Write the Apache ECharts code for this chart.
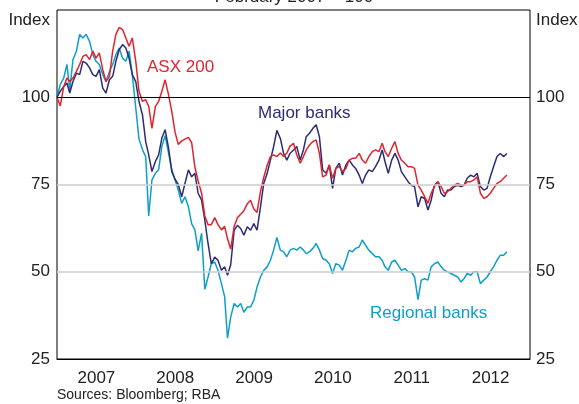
<!DOCTYPE html>
<html>
<head>
<meta charset="utf-8">
<script src="https://cdn.jsdelivr.net/npm/echarts@6/dist/echarts.min.js"></script>
<style>
html, body { margin: 0; padding: 0; background: #fff; }
#chart { width: 579px; height: 404px; }
</style>
</head>
<body>
<div id="chart"></div>
<script>
// half-monthly samples (index, Feb 2007 = 100)
const dates = [
    '2007-01-01','2007-01-16','2007-02-01','2007-02-16','2007-03-01','2007-03-16','2007-04-01','2007-04-16','2007-05-01','2007-05-16','2007-06-01','2007-06-16',
    '2007-07-01','2007-07-16','2007-08-01','2007-08-16','2007-09-01','2007-09-16','2007-10-01','2007-10-16','2007-11-01','2007-11-16','2007-12-01','2007-12-16',
    '2008-01-01','2008-01-16','2008-02-01','2008-02-16','2008-03-01','2008-03-16','2008-04-01','2008-04-16','2008-05-01','2008-05-16','2008-06-01','2008-06-16',
    '2008-07-01','2008-07-16','2008-08-01','2008-08-16','2008-09-01','2008-09-16','2008-10-01','2008-10-16','2008-11-01','2008-11-16','2008-12-01','2008-12-16',
    '2009-01-01','2009-01-16','2009-02-01','2009-02-16','2009-03-01','2009-03-16','2009-04-01','2009-04-16','2009-05-01','2009-05-16','2009-06-01','2009-06-16',
    '2009-07-01','2009-07-16','2009-08-01','2009-08-16','2009-09-01','2009-09-16','2009-10-01','2009-10-16','2009-11-01','2009-11-16','2009-12-01','2009-12-16',
    '2010-01-01','2010-01-16','2010-02-01','2010-02-16','2010-03-01','2010-03-16','2010-04-01','2010-04-16','2010-05-01','2010-05-16','2010-06-01','2010-06-16',
    '2010-07-01','2010-07-16','2010-08-01','2010-08-16','2010-09-01','2010-09-16','2010-10-01','2010-10-16','2010-11-01','2010-11-16','2010-12-01','2010-12-16',
    '2011-01-01','2011-01-16','2011-02-01','2011-02-16','2011-03-01','2011-03-16','2011-04-01','2011-04-16','2011-05-01','2011-05-16','2011-06-01','2011-06-16',
    '2011-07-01','2011-07-16','2011-08-01','2011-08-16','2011-09-01','2011-09-16','2011-10-01','2011-10-16','2011-11-01','2011-11-16','2011-12-01','2011-12-16',
    '2012-01-01','2012-01-16','2012-02-01','2012-02-16','2012-03-01','2012-03-16','2012-04-01','2012-04-16','2012-05-01','2012-05-16','2012-06-01','2012-06-16',
    '2012-07-01','2012-07-16','2012-08-01','2012-08-16','2012-09-01','2012-09-16'
];

const asx200 = [
    100, 97.5, 103, 105.5, 104.5, 105.5, 107.4, 109.4, 111.7, 112.2, 110.8, 113.2, 111.2, 112.7, 107.9, 104.5, 106, 113.2, 118, 120, 119.4, 117, 114.6, 117,
    110.3, 101.7, 98.8, 99.3, 97.4, 91.1, 97.4, 98.8, 101.7, 105, 100.7, 95.9, 90, 86.5, 87.5, 88, 88.5, 87, 80, 76, 72.5, 66, 63.5, 63.5,
    65.5, 63.5, 62, 63, 59.5, 56.5, 63, 65.5, 66.5, 67.5, 69.5, 70.5, 68, 67, 73, 77, 80.5, 83, 83.5, 83, 84, 83, 84, 86,
    86.8, 83.5, 81.1, 83, 84.9, 86.3, 87.3, 87.8, 83.9, 77.2, 77.7, 80.6, 76.8, 79.6, 80.1, 78.7, 79.6, 82, 82.5, 82.5, 83.9, 82, 81.1, 83,
    84.4, 84.9, 84.4, 86.8, 84.4, 83, 85.4, 87.3, 83.9, 82, 81.1, 80.1, 80.1, 79.6, 74.8, 73.4, 71.5, 69.6, 72.5, 74.4, 75.8, 74.4, 72.5, 72.9,
    73.9, 74.8, 75.3, 74.8, 74.8, 75.8, 75.8, 76.3, 77.2, 72.5, 71, 71.5, 72.5, 73.9, 75.3, 75.8, 76.8, 77.7
];

const majorBanks = [
    100, 101.7, 103.1, 104.1, 101.2, 104.5, 106.9, 106.5, 110.3, 109.8, 108.4, 106.5, 106, 107.9, 102.6, 101.2, 105, 106, 110.3, 113.6, 115.1, 114.1, 111.2, 106.5,
    104.5, 98.8, 95, 87.3, 83.5, 78.7, 81.6, 83.5, 88.3, 90.7, 85.4, 78.7, 76.5, 75, 71.5, 75.3, 79.2, 77.2, 78.2, 72.5, 70.5, 64.8, 58.1, 52.3,
    54.2, 53.3, 50.4, 51.4, 49, 52, 61.9, 63.3, 62.4, 60.5, 62.9, 61.9, 63.8, 61.9, 68.6, 75.3, 78.2, 82, 85.9, 90.5, 88.2, 83.9, 82, 83.9,
    84.9, 85.9, 82, 84.9, 88.7, 89.7, 91.1, 92.1, 88.7, 79.2, 78.2, 80.6, 73.9, 79.6, 81.1, 77.7, 80.6, 82, 80.6, 79.6, 77.7, 75.3, 77.7, 79.2,
    78.7, 80.1, 82, 84.9, 81.6, 78.2, 82, 83.9, 82, 78.7, 77.2, 75.8, 74.8, 74.4, 68.6, 71.5, 71, 67.7, 70.5, 74.8, 75.8, 72.5, 71.5, 73.4,
    73.4, 74.4, 74.8, 74.4, 74.8, 76.8, 77.7, 77.2, 78.2, 74.4, 73.4, 73.9, 77.2, 80.1, 83, 83.9, 83, 83.9
];

const regionalBanks = [
    100, 103.6, 105.5, 109.4, 102, 110.8, 113.2, 118, 117, 118, 116, 112.2, 110.3, 109.4, 106.5, 104.5, 107.4, 109.4, 112.2, 114.1, 111.2, 110.3, 113.2, 106.5,
    97, 88, 85, 83, 66, 76.3, 78.2, 79.2, 86, 89, 84, 79.2, 76.3, 73.4, 69.6, 71.5, 68.6, 63.8, 62, 56, 61, 45, 48.5, 52.3,
    52.8, 50.4, 46.6, 42.8, 31, 37, 40.9, 39.9, 40.9, 38.4, 39.9, 39.9, 41.8, 45.6, 48.5, 50.4, 51.4, 53.3, 56.2, 59.8, 56.2, 55.7, 54.3, 56.2,
    56.7, 56.2, 57.1, 56.2, 55.2, 55.7, 56.7, 58.1, 56.2, 53.8, 53.3, 52.3, 49.5, 52.3, 51.9, 50.4, 53.3, 56.2, 55.7, 56.7, 57.1, 59.1, 57.6, 56.2,
    55.2, 54.3, 54.3, 53.3, 51.4, 50.4, 52.8, 53.3, 51.9, 50.4, 50.9, 50, 50, 48.5, 42, 47.6, 48, 47.6, 51.4, 52.3, 52.8, 51.4, 50.4, 50,
    49.5, 49, 48.5, 47.1, 48, 49.5, 49, 50, 50, 46.6, 47.6, 48.5, 50, 51.4, 53.3, 54.7, 54.7, 55.7
];

const years = ['2007', '2008', '2009', '2010', '2011', '2012'];

const FONT = '"Liberation Sans", Arial, sans-serif';
const RED = '#e0242e';
const NAVY = '#2c2c74';
const CYAN = '#0e9fc8';

function pairs(values) {
    return values.map((v, i) => [dates[i], v]);
}

function lineSeries(name, values, color) {
    return {
        name: name,
        type: 'line',
        data: pairs(values),
        showSymbol: false,
        symbol: 'none',
        lineStyle: { color: color, width: 1.5 },
        itemStyle: { color: color },
        xAxisIndex: 0,
        yAxisIndex: 0,
        silent: true
    };
}

function label(text, x, y, color, size, align) {
    return {
        type: 'text',
        x: x,
        y: y,
        silent: true,
        style: {
            text: text,
            fill: color,
            font: size + 'px ' + FONT,
            align: align || 'left',
            textAlign: align || 'left',
            verticalAlign: 'middle',
            textVerticalAlign: 'middle'
        }
    };
}

const chart = echarts.init(document.getElementById('chart'));

const yLabel = (margin) => ({
    showMaxLabel: false,
    margin: margin,
    fontSize: 17,
    fontFamily: FONT,
    color: '#222'
});

const regional = lineSeries('Regional banks', regionalBanks, CYAN);
regional.markLine = {
    silent: true,
    symbol: ['none', 'none'],
    label: { show: false },
    animation: false,
    data: [
        { yAxis: 75, lineStyle: { color: '#cccccc', width: 1.5, type: 'solid' } },
        { yAxis: 50, lineStyle: { color: '#cccccc', width: 1.5, type: 'solid' } },
        { yAxis: 100, lineStyle: { color: '#000', width: 1, type: 'solid' } }
    ]
};

const option = {
    animation: false,
    backgroundColor: '#fff',
    grid: {
        left: 57,
        right: 49,
        top: 10,
        bottom: 45,
        show: true,
        borderColor: '#000',
        borderWidth: 1
    },
    xAxis: [
        {
            type: 'time',
            min: '2007-01-01',
            max: '2013-01-01',
            show: false
        },
        {
            type: 'category',
            data: years,
            position: 'bottom',
            boundaryGap: true,
            axisLine: { lineStyle: { color: '#000', width: 1 } },
            axisTick: { inside: true, length: 6, lineStyle: { color: '#000' } },
            axisLabel: { margin: 11, fontSize: 17, fontFamily: FONT, color: '#222' },
            splitLine: { show: false }
        }
    ],
    yAxis: [
        {
            type: 'value',
            position: 'left',
            min: 25,
            max: 125,
            interval: 25,
            axisLine: { show: false },
            axisTick: { show: false },
            splitLine: { show: false },
            axisLabel: yLabel(7)
        },
        {
            type: 'value',
            position: 'right',
            min: 25,
            max: 125,
            interval: 25,
            axisLine: { show: false },
            axisTick: { show: false },
            splitLine: { show: false },
            axisLabel: yLabel(6)
        }
    ],
    series: [
        regional,
        lineSeries('Major banks', majorBanks, NAVY),
        lineSeries('ASX 200', asx200, RED)
    ],
    graphic: [
        label('February 2007 = 100', 294, -3, '#222', 17, 'center'),
        label('Index', 50, 20, '#222', 17, 'right'),
        label('Index', 536, 20, '#222', 17, 'left'),
        label('ASX 200', 147, 67, RED, 17),
        label('Major banks', 258, 113, NAVY, 17),
        label('Regional banks', 370, 313, CYAN, 17),
        label('Sources: Bloomberg; RBA', 57, 395, '#222', 14)
    ]
};

chart.setOption(option);
</script>
</body>
</html>
